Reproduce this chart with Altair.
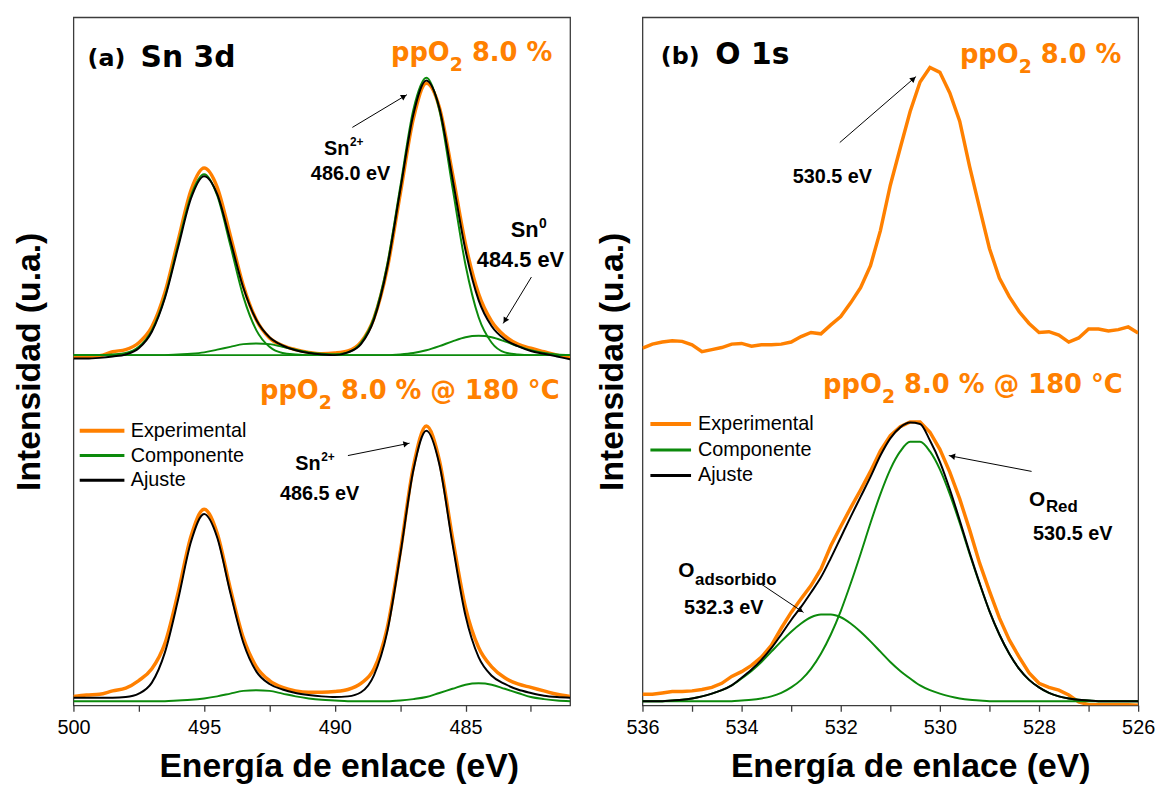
import math
import altair as alt
import pandas as pd

NARANJA = "#FF8000"
VERDE = "#0C8A0C"
NEGRO = "#000000"
MARCO = "#3C3C3C"
ARIAL = "Liberation Sans"
ANCHA = "DejaVu Sans"

# ---------------- Panel (a): Sn 3d ----------------
ENERGIA_SN = [500.0, 499.5, 499.0, 498.5, 498.0, 497.5, 497.0, 496.5, 496.0, 495.5,
              495.0, 494.5, 494.0, 493.5, 493.0, 492.5, 492.0, 491.5, 491.0, 490.5,
              490.0, 489.5, 489.0, 488.5, 488.0, 487.5, 487.0, 486.5, 486.0, 485.5,
              485.0, 484.5, 484.0, 483.5, 483.0, 482.5, 482.0, 481.5, 481.0]
# ppO2 8.0 %  (upper spectrum)
SN_SUP_EXP = [50.6, 50.7, 50.8, 51.4, 51.7, 52.7, 55.0, 60.0, 67.5, 74.9,
              78.1, 75.3, 68.3, 61.0, 56.0, 53.4, 52.3, 51.7, 51.3, 51.1,
              51.2, 51.5, 52.8, 56.3, 63.4, 74.3, 85.2, 90.4, 86.9, 77.3,
              67.0, 59.8, 55.8, 53.7, 52.5, 51.9, 51.4, 50.9, 50.5]
SN_SUP_AJUSTE = [50.4, 50.4, 50.5, 50.7, 51.0, 51.9, 54.3, 59.2, 66.5, 73.7,
                 76.9, 74.3, 67.6, 60.7, 56.0, 53.5, 52.3, 51.6, 51.2, 51.0,
                 50.9, 51.3, 52.5, 56.1, 63.6, 74.8, 85.8, 90.8, 86.8, 76.6,
                 66.1, 58.9, 55.1, 53.2, 52.2, 51.5, 51.1, 50.7, 50.3]
SN_SUP_COMP_32 = [50.9, 50.9, 50.9, 51.0, 51.2, 52.1, 54.5, 59.4, 66.9, 74.1,
                  77.2, 74.1, 66.9, 59.4, 54.5, 52.1, 51.2, 51.0, 50.9, 50.9,
                  50.9, 50.9, 50.9, 50.9, 50.9, 50.9, 50.9, 50.9, 50.9, 50.9,
                  50.9, 50.9, 50.9, 50.9, 50.9, 50.9, 50.9, 50.9, 50.9]
SN_SUP_COMP_52 = [50.9, 50.9, 50.9, 50.9, 50.9, 50.9, 50.9, 50.9, 50.9, 50.9,
                  50.9, 50.9, 50.9, 50.9, 50.9, 50.9, 50.9, 50.9, 50.9, 50.9,
                  51.0, 51.3, 52.7, 56.4, 64.0, 75.3, 86.5, 91.2, 86.5, 75.3,
                  64.0, 56.4, 52.7, 51.3, 51.0, 50.9, 50.9, 50.9, 50.9]
SN_SUP_COMP_SN0 = [50.9, 50.9, 50.9, 50.9, 50.9, 50.9, 50.9, 50.9, 51.0, 51.1,
                   51.3, 51.7, 52.1, 52.5, 52.6, 52.5, 52.1, 51.7, 51.3, 51.1,
                   51.0, 50.9, 50.9, 50.9, 50.9, 51.0, 51.2, 51.6, 52.2, 52.9,
                   53.5, 53.7, 53.5, 52.9, 52.2, 51.6, 51.2, 51.0, 50.9]
# ppO2 8.0 % @ 180 °C  (lower spectrum)
SN_INF_EXP = [1.3, 1.5, 1.6, 2.1, 2.5, 3.6, 5.3, 9.0, 16.3, 24.6,
              28.5, 25.0, 17.0, 9.8, 5.6, 3.6, 2.6, 2.1, 1.9, 1.9,
              2.0, 2.3, 3.2, 5.3, 11.2, 22.2, 34.6, 40.6, 35.6, 24.4,
              14.2, 8.4, 5.6, 4.0, 3.1, 2.6, 2.1, 1.6, 1.3]
SN_INF_AJUSTE = [1.1, 1.1, 1.1, 1.1, 1.2, 1.7, 3.3, 7.7, 15.3, 23.8,
                 27.8, 24.4, 16.4, 9.1, 4.9, 3.1, 2.3, 1.8, 1.5, 1.3,
                 1.2, 1.3, 1.9, 4.4, 10.6, 21.8, 34.1, 39.9, 35.0, 23.5,
                 13.0, 7.0, 4.3, 3.1, 2.3, 1.8, 1.4, 1.2, 1.1]
SN_INF_COMP_SN0 = [0.6, 0.6, 0.6, 0.6, 0.6, 0.6, 0.6, 0.6, 0.7, 0.8,
                   1.0, 1.3, 1.7, 2.1, 2.2, 2.1, 1.7, 1.3, 1.0, 0.8,
                   0.7, 0.6, 0.6, 0.6, 0.6, 0.7, 0.9, 1.2, 1.8, 2.4,
                   3.0, 3.2, 3.0, 2.4, 1.8, 1.2, 0.9, 0.7, 0.6]

# ---------------- Panel (b): O 1s ----------------
ENERGIA_O = [536.0, 535.8, 535.6, 535.4, 535.2, 535.0, 534.8, 534.6, 534.4, 534.2,
             534.0, 533.8, 533.6, 533.4, 533.2, 533.0, 532.8, 532.6, 532.4, 532.2,
             532.0, 531.8, 531.6, 531.4, 531.2, 531.0, 530.8, 530.6, 530.4, 530.2,
             530.0, 529.8, 529.6, 529.4, 529.2, 529.0, 528.8, 528.6, 528.4, 528.2,
             528.0, 527.8, 527.6, 527.4, 527.2, 527.0, 526.8, 526.6, 526.4, 526.2,
             526.0]
O_SUP_EXP = [51.9, 52.5, 52.8, 53.0, 52.9, 52.4, 51.4, 51.7, 52.0, 52.5,
             52.6, 52.2, 52.4, 52.4, 52.5, 52.8, 53.6, 54.2, 54.0, 55.3,
             56.5, 58.5, 60.7, 63.9, 69.0, 75.6, 81.0, 86.3, 90.6, 92.7,
             92.0, 89.0, 84.9, 78.3, 72.3, 66.4, 62.1, 59.4, 57.2, 55.5,
             54.2, 54.3, 53.8, 52.8, 53.4, 54.7, 54.7, 54.4, 54.6, 55.0,
             54.1]
O_INF_EXP = [1.6, 1.6, 1.8, 2.0, 2.0, 2.1, 2.3, 2.6, 3.2, 4.2,
             4.9, 5.8, 7.0, 8.7, 11.2, 13.5, 15.5, 17.4, 19.8, 23.2,
             26.0, 28.7, 31.3, 34.0, 37.0, 39.2, 40.5, 41.2, 41.2, 39.7,
             37.2, 33.9, 30.0, 25.5, 20.7, 16.6, 12.7, 9.5, 7.0, 4.7,
             3.2, 2.6, 2.2, 1.5, 0.5, 0.1, 0.1, 0.1, 0.1, 0.1,
             0.0]
O_INF_AJUSTE = [0.6, 0.6, 0.6, 0.7, 0.8, 1.0, 1.3, 1.7, 2.2, 2.9,
                4.0, 5.2, 6.6, 8.3, 10.3, 12.4, 14.3, 16.4, 18.6, 21.4,
                24.4, 27.4, 30.3, 33.2, 36.3, 38.8, 40.4, 41.1, 40.9, 38.5,
                35.4, 31.4, 26.9, 22.2, 17.8, 13.7, 10.3, 7.5, 5.3, 3.7,
                2.6, 1.8, 1.3, 1.0, 0.8, 0.7, 0.6, 0.6, 0.6, 0.6,
                0.6]
O_INF_COMP_RED = [0.6, 0.6, 0.6, 0.6, 0.6, 0.6, 0.6, 0.6, 0.6, 0.6,
                  0.7, 0.8, 1.0, 1.3, 1.8, 2.6, 3.7, 5.3, 7.5, 10.3,
                  13.7, 17.7, 22.0, 26.5, 30.7, 34.3, 36.9, 38.3, 38.3, 36.9,
                  34.3, 30.7, 26.5, 22.0, 17.7, 13.7, 10.3, 7.5, 5.3, 3.7,
                  2.6, 1.8, 1.3, 1.0, 0.8, 0.7, 0.6, 0.6, 0.6, 0.6,
                  0.6]
O_INF_COMP_ADS = [0.6, 0.6, 0.6, 0.7, 0.8, 1.0, 1.3, 1.7, 2.2, 2.9,
                  3.9, 5.0, 6.3, 7.8, 9.3, 10.7, 11.9, 12.8, 13.2, 13.2,
                  12.8, 11.9, 10.7, 9.3, 7.8, 6.3, 5.0, 3.9, 2.9, 2.2,
                  1.7, 1.3, 1.0, 0.8, 0.7, 0.6, 0.6, 0.6, 0.6, 0.6,
                  0.6, 0.6, 0.6, 0.6, 0.6, 0.6, 0.6, 0.6, 0.6, 0.6,
                  0.6]

SERIES = ["Experimental", "Componente", "Ajuste"]
TICKS_SN = [500, 495, 490, 485]
TICKS_SN_MENORES = [497.5, 492.5, 487.5, 482.5]
TICKS_O = [536, 534, 532, 530, 528, 526]
TICKS_O_MENORES = [535, 533, 531, 529, 527]

ALTO = 694
ANCHO_A = 501
ANCHO_B = 500

# DejaVu Sans Bold advance widths (em), used to chain sub-scripted label parts
DVB = {" ": 0.348, "8": 0.696, ".": 0.381, "0": 0.696, "%": 1.002, "@": 1.0,
       "1": 0.696, "°": 0.5, "C": 0.734, "2": 0.696}


def ancho_dvb(t, size):
    return sum(DVB[c] for c in t) * size


def tabla(energia, curvas):
    filas = []
    for curva, serie, vals in curvas:
        for e, v in zip(energia, vals):
            filas.append({"E": e, "I": v, "serie": serie, "curva": curva})
    return pd.DataFrame(filas)


def ejes(dom, mayores, menores, modulo, ancho, titulo_dx, pad_y):
    x = alt.X("E:Q",
              scale=alt.Scale(domain=dom, reverse=True, nice=False, zero=False),
              axis=alt.Axis(values=mayores + menores,
                            labelExpr=f"datum.value % {modulo} === 0 ? datum.label : ''",
                            title="Energía de enlace (eV)", tickSize=6, tickWidth=1.3,
                            tickColor=MARCO, labelFontSize=20, labelPadding=6,
                            labelColor=NEGRO, labelFont=ARIAL, labelFlush=False,
                            labelOverlap=False, domain=False, grid=False,
                            titleFontSize=34, titleFont=ARIAL, titleFontWeight="bold",
                            titleColor=NEGRO, titlePadding=13,
                            titleX=ancho / 2 + titulo_dx))
    y = alt.Y("I:Q",
              scale=alt.Scale(domain=[0, 100], nice=False, zero=False),
              axis=alt.Axis(title="Intensidad (u.a.)", labels=False, ticks=False,
                            domain=False, grid=False, titleFontSize=34, titleFont=ARIAL,
                            titleFontWeight="bold", titleColor=NEGRO, titlePadding=pad_y))
    return x, y


def texto(x, y, filas, size, font=ARIAL, color=NEGRO, align="left", dx=0, dy=0,
          bold=True, baseline="alphabetic"):
    df = pd.DataFrame(filas, columns=["E", "I", "t"])
    return alt.Chart(df).mark_text(align=align, baseline=baseline, font=font, fontSize=size,
                                   fontWeight="bold" if bold else "normal", color=color,
                                   dx=dx, dy=dy).encode(x=x, y=y, text="t:N")


def ppo2(x, y, e, i, cola, size=26, sub=19):
    w_cola = ancho_dvb(cola, size)
    w_sub = ancho_dvb("2", sub)
    return [
        texto(x, y, [(e, i, cola)], size, font=ANCHA, color=NARANJA, align="right"),
        texto(x, y, [(e, i, "2")], sub, font=ANCHA, color=NARANJA, align="right",
              dx=-w_cola, dy=10),
        texto(x, y, [(e, i, "ppO")], size, font=ANCHA, color=NARANJA, align="right",
              dx=-(w_cola + w_sub)),
    ]


def flechas(x, y, filas, ppe, ppi):
    df = pd.DataFrame(filas, columns=["E", "I", "E2", "I2"])
    regla = alt.Chart(df).mark_rule(color=NEGRO, strokeWidth=1).encode(
        x=x, y=y, x2="E2:Q", y2="I2:Q")
    puntas = []
    for e1, i1, e2, i2 in filas:
        dxp = (e1 - e2) * ppe
        dyp = (i1 - i2) * ppi
        largo = math.hypot(dxp, dyp)
        ux, uy = dxp / largo, dyp / largo
        ang = math.degrees(math.atan2(dxp, -dyp)) % 360
        puntas.append({"E": e2 + 3.5 * ux / ppe, "I": i2 + 3.5 * uy / ppi, "ang": ang})
    cabeza = alt.Chart(pd.DataFrame(puntas)).mark_point(
        shape="triangle-up", filled=True, size=42, color=NEGRO, opacity=1,
        strokeWidth=0).encode(x=x, y=y, angle=alt.Angle("ang:Q", scale=None))
    return [regla, cabeza]


def leyenda(x, y, e1, e2, et, filas_i):
    estilos = [(NARANJA, 4.0), (VERDE, 3.0), (NEGRO, 3.0)]
    df = pd.DataFrame([{"E": e1, "E2": e2, "I": i, "c": c, "w": w, "t": s}
                       for (c, w), i, s in zip(estilos, filas_i, SERIES)])
    lineas = alt.Chart(df).mark_rule().encode(
        x=x, x2="E2:Q", y=y, color=alt.Color("c:N", scale=None),
        strokeWidth=alt.StrokeWidth("w:Q", scale=None))
    dft = pd.DataFrame([{"E": et, "I": i, "t": s} for i, s in zip(filas_i, SERIES)])
    etiquetas = alt.Chart(dft).mark_text(align="left", baseline="middle", font=ARIAL,
                                         fontSize=20, color=NEGRO).encode(x=x, y=y, text="t:N")
    return [lineas, etiquetas]


def curvas(df, x, y, interp_exp, w_exp):
    base = alt.Chart(df)
    exp = base.transform_filter(alt.datum.serie == "Experimental").mark_line(
        color=NARANJA, strokeWidth=w_exp, interpolate=interp_exp, clip=True).encode(
        x=x, y=y, detail="curva:N")
    comp = base.transform_filter(alt.datum.serie == "Componente").mark_line(
        color=VERDE, strokeWidth=2, interpolate="monotone", clip=True).encode(
        x=x, y=y, detail="curva:N")
    aj = base.transform_filter(alt.datum.serie == "Ajuste").mark_line(
        color=NEGRO, strokeWidth=2, interpolate="monotone", clip=True).encode(
        x=x, y=y, detail="curva:N")
    return [exp, comp, aj]


# ---------- build panel (a) ----------
df_a = tabla(ENERGIA_SN, [
    ("sup_exp", "Experimental", SN_SUP_EXP),
    ("inf_exp", "Experimental", SN_INF_EXP),
    ("sup_c32", "Componente", SN_SUP_COMP_32),
    ("sup_c52", "Componente", SN_SUP_COMP_52),
    ("sup_sn0", "Componente", SN_SUP_COMP_SN0),
    ("inf_sn0", "Componente", SN_INF_COMP_SN0),
    ("sup_aj", "Ajuste", SN_SUP_AJUSTE),
    ("inf_aj", "Ajuste", SN_INF_AJUSTE),
])
xa, ya = ejes([481, 500], TICKS_SN, TICKS_SN_MENORES, 5, ANCHO_A, 17, 27)
ppe_a = ANCHO_A / 19.0
ppi = ALTO / 100.0

capas_a = curvas(df_a, xa, ya, "monotone", 3.5)
capas_a += [
    texto(xa, ya, [(499.46, 92.9, "(a)")], 24, font=ANCHA),
    texto(xa, ya, [(497.43, 92.8, "Sn 3d")], 30, font=ANCHA),
]
capas_a += ppo2(xa, ya, 481.68, 93.7, " 8.0 %")
capas_a += ppo2(xa, ya, 481.40, 44.5, " 8.0 % @ 180 °C")
capas_a += [
    texto(xa, ya, [(490.41, 80.0, "Sn"), (491.51, 34.15, "Sn")], 20),
    texto(xa, ya, [(490.41, 80.0, "2+"), (491.51, 34.15, "2+")], 12, dx=26, dy=-9),
    texto(xa, ya, [(489.40, 76.4, "486.0 eV"), (490.58, 29.8, "486.5 eV")], 20,
          align="center"),
    texto(xa, ya, [(483.27, 68.0, "Sn")], 22),
    texto(xa, ya, [(483.27, 68.0, "0")], 14, dx=28.5, dy=-10),
    texto(xa, ya, [(482.90, 63.7, "484.5 eV")], 22, align="center"),
]
capas_a += flechas(xa, ya, [(489.33, 84.0, 487.24, 88.76),
                            (482.48, 62.25, 483.56, 55.5),
                            (489.50, 36.3, 487.14, 38.1)], ppe_a, ppi)
capas_a += leyenda(xa, ya, 499.76, 498.05, 497.81, [39.9, 36.3, 32.7])
panel_a = alt.layer(*capas_a).properties(width=ANCHO_A, height=ALTO)

# ---------- build panel (b) ----------
df_b = tabla(ENERGIA_O, [
    ("sup_exp", "Experimental", O_SUP_EXP),
    ("inf_exp", "Experimental", O_INF_EXP),
    ("inf_red", "Componente", O_INF_COMP_RED),
    ("inf_ads", "Componente", O_INF_COMP_ADS),
    ("inf_aj", "Ajuste", O_INF_AJUSTE),
])
xb, yb = ejes([526, 536], TICKS_O, TICKS_O_MENORES, 2, ANCHO_B, 20, 13)
ppe_b = ANCHO_B / 10.0

capas_b = curvas(df_b, xb, yb, "linear", 3.5)
capas_b += [
    texto(xb, yb, [(535.63, 93.2, "(b)")], 24, font=ANCHA),
    texto(xb, yb, [(534.53, 93.2, "O 1s")], 30, font=ANCHA),
]
capas_b += ppo2(xb, yb, 526.34, 93.3, " 8.0 %")
capas_b += ppo2(xb, yb, 526.31, 45.4, " 8.0 % @ 180 °C")
capas_b += [
    texto(xb, yb, [(532.17, 75.9, "530.5 eV"), (527.32, 24.1, "530.5 eV"),
                   (534.36, 13.3, "532.3 eV")], 20, align="center"),
    texto(xb, yb, [(528.20, 28.9, "O"), (535.28, 18.7, "O")], 21),
    texto(xb, yb, [(528.20, 28.9, "Red")], 17, dx=17, dy=6),
    texto(xb, yb, [(535.28, 18.7, "adsorbido")], 17, dx=17, dy=8),
]
capas_b += flechas(xb, yb, [(532.02, 81.8, 530.48, 91.4),
                            (528.15, 34.0, 529.82, 36.3),
                            (533.60, 17.6, 532.75, 13.5)], ppe_b, ppi)
capas_b += leyenda(xb, yb, 535.84, 535.02, 534.88, [40.9, 37.1, 33.4])
panel_b = alt.layer(*capas_b).properties(width=ANCHO_B, height=ALTO)

chart = alt.hconcat(panel_a, panel_b, spacing=24).configure_view(
    stroke=MARCO, strokeWidth=1.3).properties(
    padding={"left": 4, "top": 5, "right": 0, "bottom": 0})

chart.save("out.html", embed_options={"renderer": "svg", "actions": False})
